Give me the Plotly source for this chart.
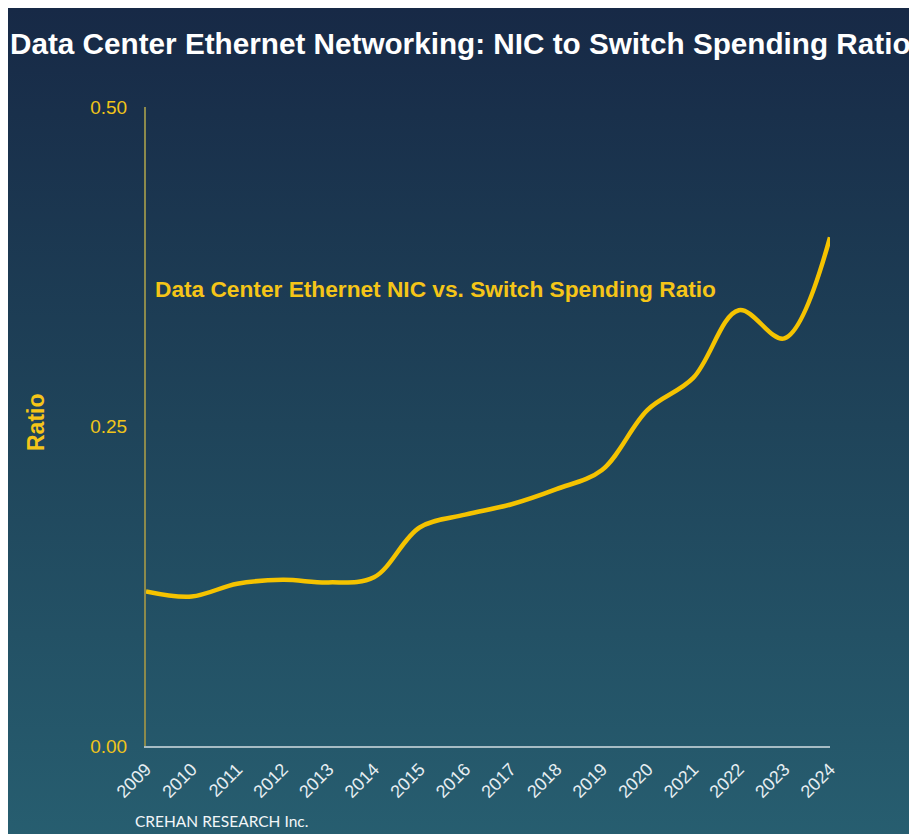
import base64
import plotly.graph_objects as go

years = [str(y) for y in range(2009, 2025)]
ratio = [0.121, 0.117, 0.127, 0.130, 0.128, 0.132, 0.171, 0.181, 0.189,
         0.201, 0.216, 0.263, 0.288, 0.341, 0.319, 0.398]
y_ticks = [0.0, 0.25, 0.5]
y_tick_labels = ["0.00", "0.25", "0.50"]

W, H = 917, 834
OFF = 8  # page body margin offset
L, R, T, B = 146 - OFF, W - (830 - OFF), 107 - OFF, H - (746 - OFF)
pw, ph = W - L - R, H - T - B


def fx(page_x):
    return (page_x - OFF - L) / pw


def fy(page_y):
    return (H - B - (page_y - OFF)) / ph


svg = ('<svg xmlns="http://www.w3.org/2000/svg" width="100" height="100" '
       'preserveAspectRatio="none"><defs><linearGradient id="g" x1="0" y1="0" x2="0" y2="1">'
       '<stop offset="0" stop-color="#172946"/><stop offset="0.5" stop-color="#1f445a"/>'
       '<stop offset="1" stop-color="#275e70"/></linearGradient></defs>'
       '<rect width="100" height="100" fill="url(#g)"/></svg>')
bg_src = "data:image/svg+xml;base64," + base64.b64encode(svg.encode()).decode()

fig = go.Figure()
fig.add_trace(go.Scatter(x=years, y=ratio, mode="lines",
                         line=dict(color="#f5c300", width=4.5, shape="spline", smoothing=1.0),
                         hoverinfo="x+y"))

fig.update_layout(
    width=W, height=H,
    margin=dict(l=L, r=R, t=T, b=B),
    paper_bgcolor="#265c6e",
    plot_bgcolor="rgba(0,0,0,0)",
    images=[dict(source=bg_src, xref="paper", yref="paper",
                 x=-L / pw, y=1 + T / ph, sizex=W / pw, sizey=H / ph,
                 xanchor="left", yanchor="top", sizing="stretch", layer="below")],
    showlegend=False,
    title=dict(text="<b>Data Center Ethernet Networking: NIC to Switch Spending Ratio</b>",
               x=(10 - OFF) / W, xanchor="left", xref="container",
               y=1 - (44 - OFF) / H, yanchor="middle", yref="container",
               font=dict(family="Liberation Sans, Arial", size=29.7, color="white")),
    xaxis=dict(type="category", showgrid=False, zeroline=False,
               range=[0, len(years) - 1],
               showline=True, linecolor="#a7bcc4", linewidth=1.5,
               tickangle=-45, ticks="outside", ticklen=4, tickcolor="rgba(0,0,0,0)",
               tickfont=dict(family="Liberation Sans, Arial", size=18, color="#e6eef2")),
    yaxis=dict(range=[0, 0.5], tickvals=y_ticks, ticktext=y_tick_labels,
               showgrid=False, zeroline=False,
               showline=True, linecolor="#8c8a4c", linewidth=2,
               ticks="outside", ticklen=13, tickcolor="rgba(0,0,0,0)",
               tickfont=dict(family="Liberation Sans, Arial", size=19, color="#f0c419")),
    annotations=[
        dict(text="<b>Ratio</b>", textangle=-90,
             xref="paper", yref="paper", x=fx(36), y=fy(422),
             xanchor="center", yanchor="middle", showarrow=False,
             font=dict(family="Liberation Sans, Arial", size=23, color="#f5c518")),
        dict(text="<b>Data Center Ethernet NIC vs. Switch Spending Ratio</b>",
             xref="paper", yref="paper",
             x=fx(153), y=fy(289),
             xanchor="left", yanchor="middle", showarrow=False,
             font=dict(family="Liberation Sans, Arial", size=22.7, color="#f5c518")),
        dict(text="CREHAN RESEARCH Inc.",
             xref="paper", yref="paper",
             x=fx(133), y=fy(821),
             xanchor="left", yanchor="middle", showarrow=False,
             font=dict(family="Lato", size=15.5, color="#f2f6f8")),
    ],
)

fig.write_html("out.html")
